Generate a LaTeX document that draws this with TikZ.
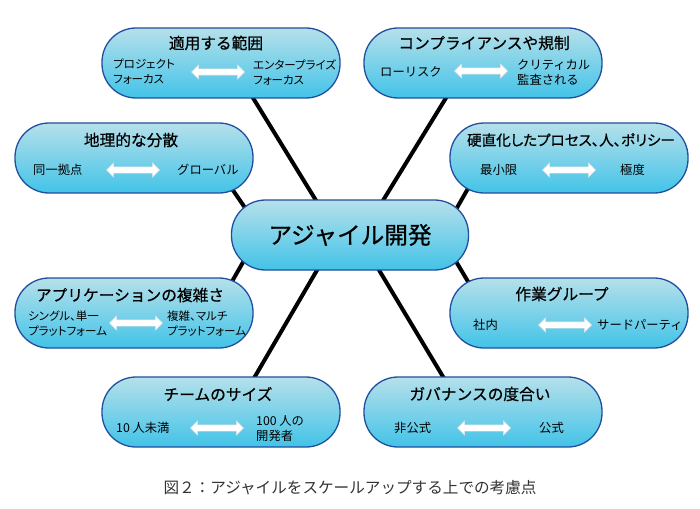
\documentclass[tikz,border=0pt]{standalone}
\usepackage{fontspec}
\setmainfont{Noto Sans CJK JP}
\newfontfamily\tightfont{Noto Sans CJK JP}[RawFeature=+palt]
\newfontfamily\headfont{Noto Sans CJK JP}[FakeBold=0.6]
\newfontfamily\tightheadfont{Noto Sans CJK JP}[RawFeature=+palt, FakeBold=0.6]
\usetikzlibrary{shapes.arrows,backgrounds}
\definecolor{boxtop}{HTML}{B6E0EA}
\definecolor{boxbot}{HTML}{42C3E8}
\definecolor{boxline}{HTML}{1F4F9E}
\tikzset{
  topic/.style={rectangle, rounded corners=34pt, minimum width=238pt, minimum height=70pt,
    draw=boxline, line width=1.3pt, top color=boxtop, bottom color=boxbot},
  head/.style={font=\headfont\fontsize{15.7}{18}\selectfont},
  side/.style={anchor=west, align=left, inner sep=0pt, font=\fontsize{12.3}{15}\selectfont},
  tightside/.style={side, font=\tightfont\fontsize{11.5}{15}\selectfont},
  spanarrow/.style={double arrow, fill=white, draw=gray!25, line width=0.4pt, inner sep=3pt,
    double arrow head extend=4pt, minimum height=53pt},
  spoke/.style={line width=4pt}
}
\begin{document}
\begin{tikzpicture}[x=1pt,y=-1pt]
    \useasboundingbox (0,0) rectangle (700,508);
    \node[topic] (scope) at (221, 63) {};
    \node[topic] (geo) at (134, 158) {};
    \node[topic] (comp) at (483, 63) {};
    \node[topic] (rigid) at (569, 158) {};
    \node[topic, minimum width=237pt] (core) at (350, 235) {};
    \node[topic] (app) at (134, 313) {};
    \node[topic] (work) at (569, 313) {};
    \node[topic] (team) at (221, 412) {};
    \node[topic] (gov) at (483, 412) {};
    \node[font=\headfont\fontsize{23.6}{28}\selectfont] (corel) at (350, 235) {アジャイル開発};

    \node[head] (scopeh) at (216, 43) {適用する範囲};
    \node[tightside] (scopel) at (113, 72) {プロジェクト\\フォーカス};
    \node[spanarrow] (scopea) at (218, 72) {};
    \node[tightside] (scoper) at (253, 72) {エンタープライズ\\フォーカス};

    \node[head] (geoh) at (131, 140) {地理的な分散};
    \node[side] (geol) at (33, 170) {同一拠点};
    \node[spanarrow] (geoa) at (133, 170) {};
    \node[side] (geor) at (177, 170) {グローバル};

    \node[head] (comph) at (484, 43) {コンプライアンスや規制};
    \node[side] (compl) at (380, 72) {ローリスク};
    \node[spanarrow] (compa) at (481, 71) {};
    \node[side] (compr) at (517, 72) {クリティカル\\監査される};

    \node[head, font=\tightheadfont\fontsize{14.6}{18}\selectfont] (rigidh) at (571, 140) {硬直化したプロセス、人、ポリシー};
    \node[side] (rigidl) at (480, 170) {最小限};
    \node[spanarrow] (rigida) at (569, 170) {};
    \node[side] (rigidr) at (620, 170) {極度};

    \node[head] (apph) at (130, 295) {アプリケーションの複雑さ};
    \node[tightside] (appl) at (28, 324) {シングル、単一\\プラットフォーム};
    \node[spanarrow] (appa) at (136, 323) {};
    \node[tightside] (appr) at (167, 324) {複雑、マルチ\\プラットフォーム};

    \node[head] (workh) at (562, 294) {作業グループ};
    \node[side] (workl) at (473, 325) {社内};
    \node[spanarrow] (worka) at (565, 325) {};
    \node[side] (workr) at (597, 325) {サードパーティ};

    \node[head] (teamh) at (218, 394) {チームのサイズ};
    \node[side] (teaml) at (116, 428) {10 人未満};
    \node[spanarrow] (teama) at (217, 428) {};
    \node[side] (teamr) at (256, 429) {100 人の\\開発者};

    \node[head] (govh) at (480, 394) {ガバナンスの度合い};
    \node[side] (govl) at (394, 428) {非公式};
    \node[spanarrow] (gova) at (484, 428) {};
    \node[side] (govr) at (539, 428) {公式};

    \node[text=black!80, font=\fontsize{15.6}{18}\selectfont] (cap) at (350, 488) {図２：アジャイルをスケールアップする上での考慮点};

    \begin{pgfonlayer}{background}
    \draw[spoke] ([shift={(29,30)}]scope.center) to ([shift={(-30,-28)}]core.center);
    \draw[spoke] ([shift={(94,25)}]geo.center) to ([shift={(-100,-20)}]core.center);
    \draw[spoke] ([shift={(-34,30)}]comp.center) to ([shift={(29,-28)}]core.center);
    \draw[spoke] ([shift={(-99,27)}]rigid.center) to ([shift={(104,-22)}]core.center);
    \draw[spoke] ([shift={(96,-28)}]app.center) to ([shift={(-104,22)}]core.center);
    \draw[spoke] ([shift={(-99,-28)}]work.center) to ([shift={(104,23)}]core.center);
    \draw[spoke] ([shift={(29,-27)}]team.center) to ([shift={(-30,30)}]core.center);
    \draw[spoke] ([shift={(-35,-27)}]gov.center) to ([shift={(26,30)}]core.center);
    \end{pgfonlayer}
  \end{tikzpicture}
\end{document}
